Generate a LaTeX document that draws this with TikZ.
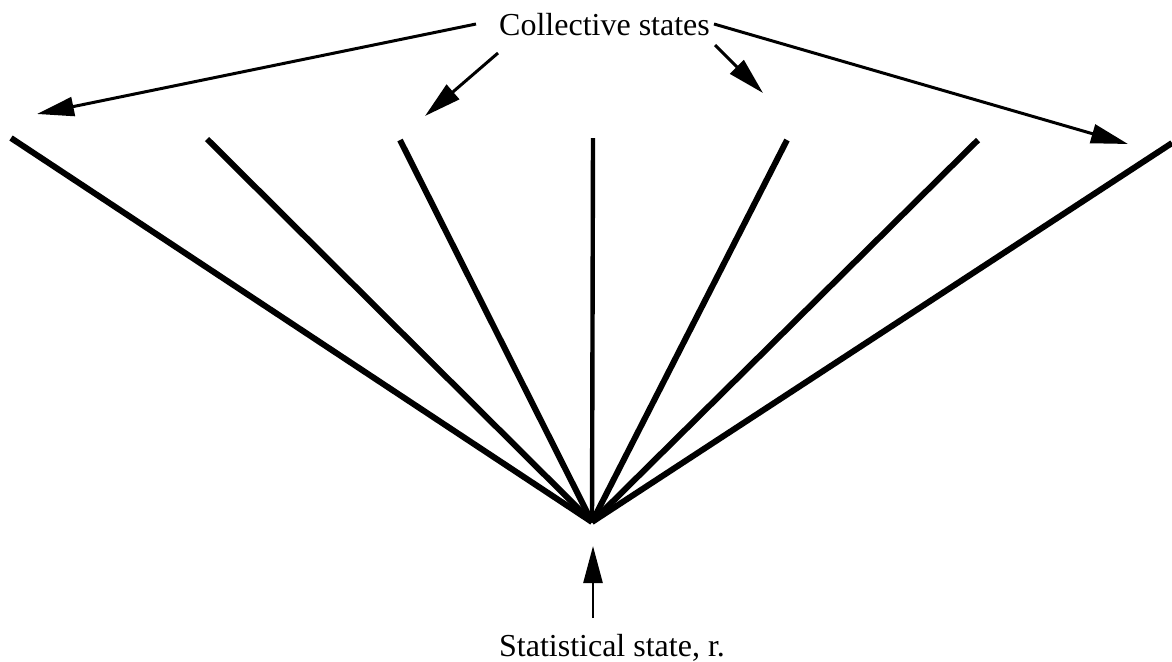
\documentclass[tikz,border=0pt]{standalone}
\usepackage{fontspec}
\setmainfont{Liberation Serif}
\usetikzlibrary{arrows.meta}
\begin{document}
\begin{tikzpicture}[x=0.5pt,y=-0.5pt,
  fan/.style={line width=3pt},
  ptr/.style={line width=1.5pt,-{Triangle[length=18.5pt,width=9.5pt]}},
  lbl/.style={font=\fontsize{16}{18}\selectfont,inner sep=0pt,anchor=base}]
\useasboundingbox (0,0) rectangle (1172,661);
\coordinate (apex) at (592,522);
\coordinate (t1) at (11,138);
\coordinate (t2) at (207,139);
\coordinate (t3) at (400,140);
\coordinate (t4) at (593,138);
\coordinate (t5) at (787,140);
\coordinate (t6) at (978,140);
\coordinate (t7) at (1172,143);
\foreach \t in {t1,t2,t3,t5,t6,t7} \draw[fan] (apex) -- (\t);
\draw[line width=2.2pt] (apex) -- (t4);
\node[lbl] (cs) at (604.5,35) {Collective states};
\coordinate (s1) at (476,24);
\coordinate (e1) at (37,114);
\coordinate (s2) at (498,53);
\coordinate (e2) at (425,116);
\coordinate (s3) at (715,45);
\coordinate (e3) at (763,93);
\coordinate (s4) at (714,24);
\coordinate (e4) at (1128,144);
\draw[ptr] (s1) -- (e1);
\draw[ptr] (s2) -- (e2);
\draw[ptr] (s3) -- (e3);
\draw[ptr] (s4) -- (e4);
\node[lbl] (ss) at (612,656) {Statistical state, r.};
\coordinate (b0) at (593,618);
\coordinate (b1) at (593,546);
\draw[line width=1.3pt,-{Triangle[length=18.5pt,width=9.5pt]}] (b0) -- (b1);
\end{tikzpicture}
\end{document}
